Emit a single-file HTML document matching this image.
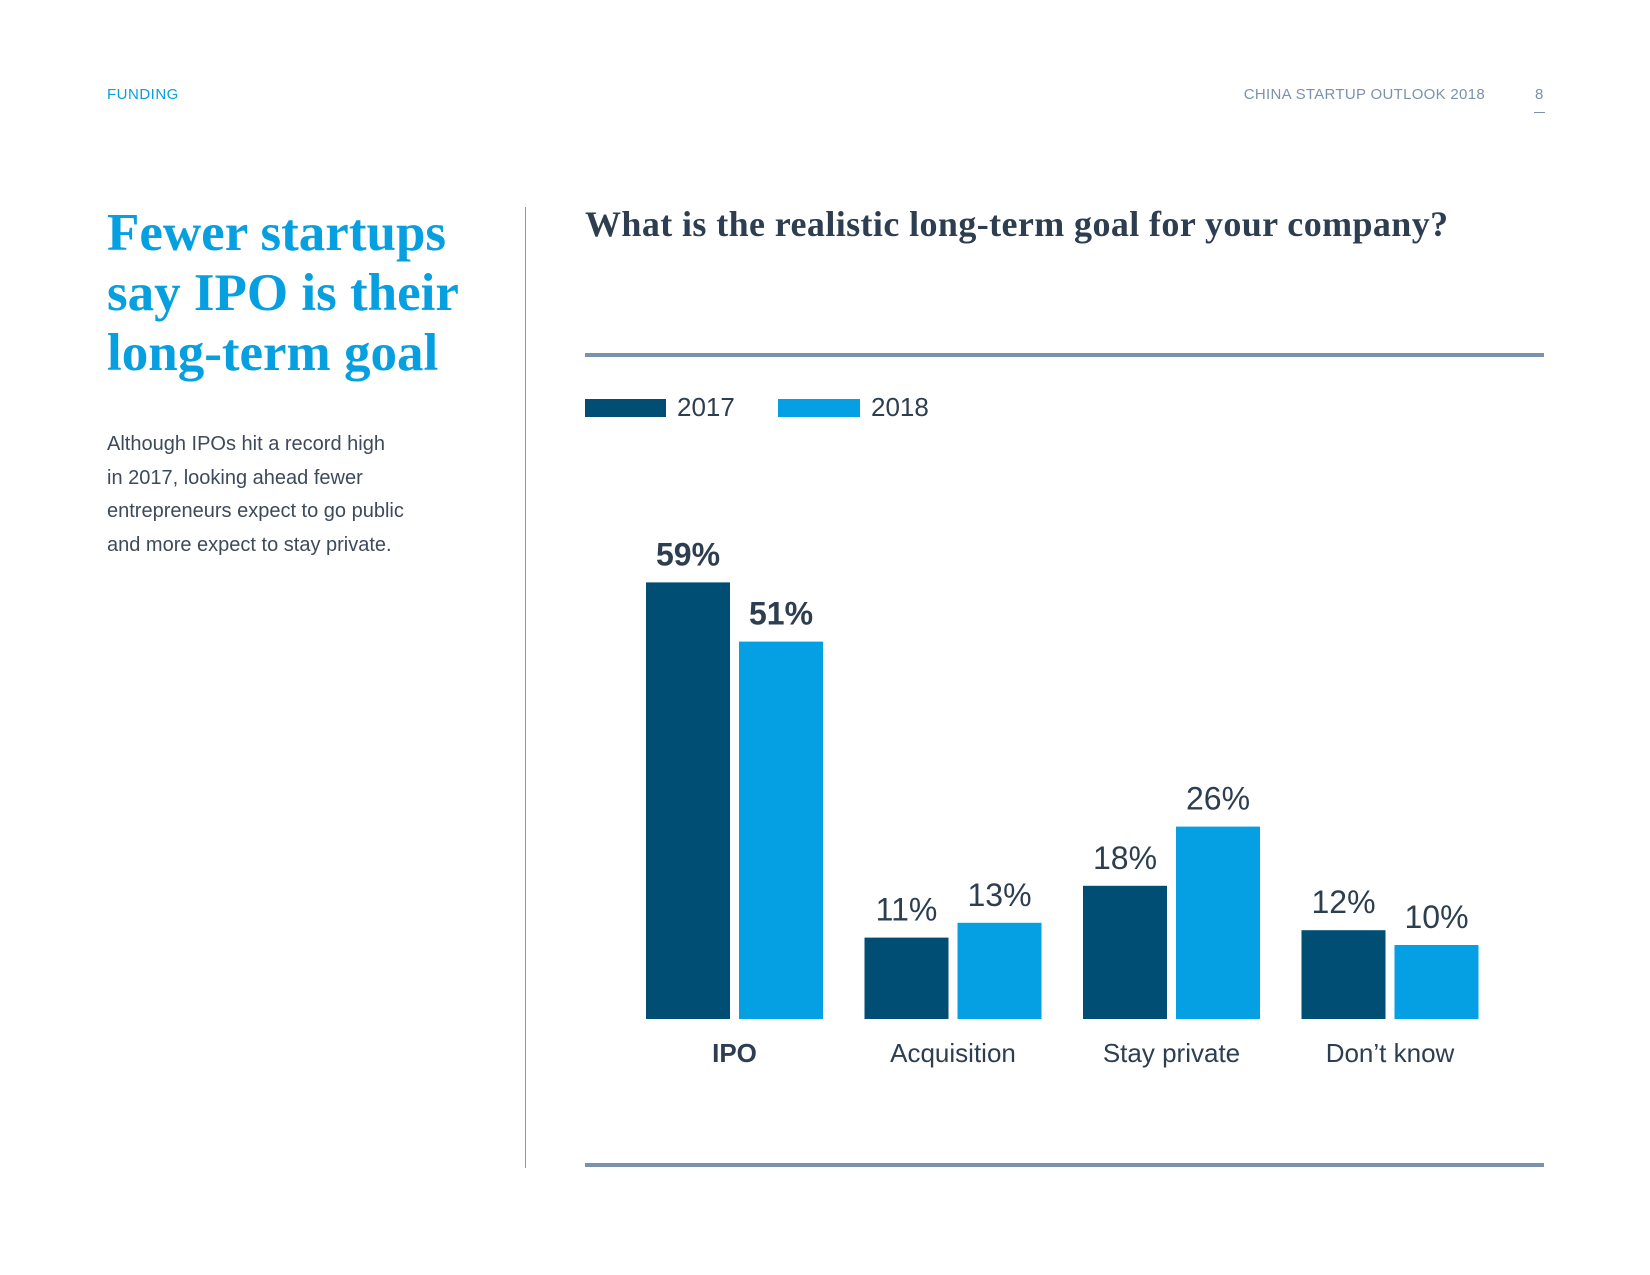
<!DOCTYPE html>
<html><head><meta charset="utf-8"><style>
body{margin:0;width:1650px;height:1275px;background:#fff;position:relative;overflow:hidden;font-family:"Liberation Sans",sans-serif;}
.a{position:absolute;white-space:nowrap;}
</style></head><body>
<div class="a" style="left:107px;top:86px;font-size:15px;color:#069fe0;letter-spacing:0.5px">FUNDING</div>
<div class="a" style="right:165px;top:86px;font-size:15px;color:#7a92ab;letter-spacing:0.3px">CHINA STARTUP OUTLOOK 2018</div>
<div class="a" style="left:1535px;top:86px;font-size:15px;color:#7a92ab">8</div>
<div class="a" style="left:1534px;top:112px;width:11px;height:1px;background:#7a92ab"></div>
<div class="a" style="left:107px;top:203px;font-family:'Liberation Serif',serif;font-weight:bold;font-size:53px;line-height:60px;color:#069fe0;white-space:normal;width:420px">Fewer startups<br>say IPO is their<br>long-term goal</div>
<div class="a" style="left:107px;top:428px;font-size:20px;line-height:33.5px;color:#3d4a5a;white-space:nowrap">Although IPOs hit a record high<br>in 2017, looking ahead fewer<br>entrepreneurs expect to go public<br>and more expect to stay private.</div>
<div class="a" style="left:525px;top:207px;width:1px;height:961px;background:#8a9aab"></div>
<div class="a" style="left:585px;top:203px;font-family:'Liberation Serif',serif;font-weight:bold;font-size:36px;letter-spacing:0.4px;color:#2d3e50">What is the realistic long-term goal for your company?</div>
<div class="a" style="left:585px;top:353px;width:959px;height:4px;background:#7a92ab"></div>
<div class="a" style="left:585px;top:1163px;width:959px;height:4px;background:#7a92ab"></div>
<div class="a" style="left:585px;top:399px;width:81px;height:18px;background:#004e73"></div>
<div class="a" style="left:677px;top:392px;font-size:26px;color:#2d3e50">2017</div>
<div class="a" style="left:778px;top:399px;width:82px;height:18px;background:#05a0e3"></div>
<div class="a" style="left:871px;top:392px;font-size:26px;color:#2d3e50">2018</div>
<svg id="chart" class="a" style="left:0;top:0" width="1650" height="1275"></svg>
<script>
const categories=["IPO","Acquisition","Stay private","Don’t know"];
const values2017=[59,11,18,12];
const values2018=[51,13,26,10];
const labels2017=["59%","11%","18%","12%"];
const labels2018=["51%","13%","26%","10%"];
const svg=document.getElementById('chart');
const NS='http://www.w3.org/2000/svg';
const base=1019, perPct=7.40, x0=646, step=218.5, bw=84, gap=9;
function y(v){return base-v*perPct;}
function gx(i){return x0+i*step;}
function txt(x,yy,s,bold,name){const t=document.createElementNS(NS,'text');t.setAttribute('x',x);t.setAttribute('y',yy);t.setAttribute('text-anchor','middle');t.setAttribute('font-family','Liberation Sans, sans-serif');t.setAttribute('font-size','32');t.setAttribute('fill','#2d3e50');if(bold)t.setAttribute('font-weight','bold');t.textContent=s;


svg.appendChild(t);return t;}
function bar(x,v,c,name){const r=document.createElementNS(NS,'rect');r.setAttribute('x',x);r.setAttribute('y',y(v));r.setAttribute('width',bw);r.setAttribute('height',base-y(v));r.setAttribute('fill',c);


svg.appendChild(r);}
categories.forEach((c,i)=>{
  const b=i===0;
  bar(gx(i),values2017[i],'#004e73','bar-2017');
  bar(gx(i)+bw+gap,values2018[i],'#05a0e3','bar-2018');
  txt(gx(i)+bw/2,y(values2017[i])-17,labels2017[i],b,'value-label-2017');
  txt(gx(i)+bw+gap+bw/2,y(values2018[i])-17,labels2018[i],b,'value-label-2018');
  const t=txt(gx(i)+bw+gap/2,1062,c,b,'category-label');t.setAttribute('font-size','26');
});
</script>
</body></html>
